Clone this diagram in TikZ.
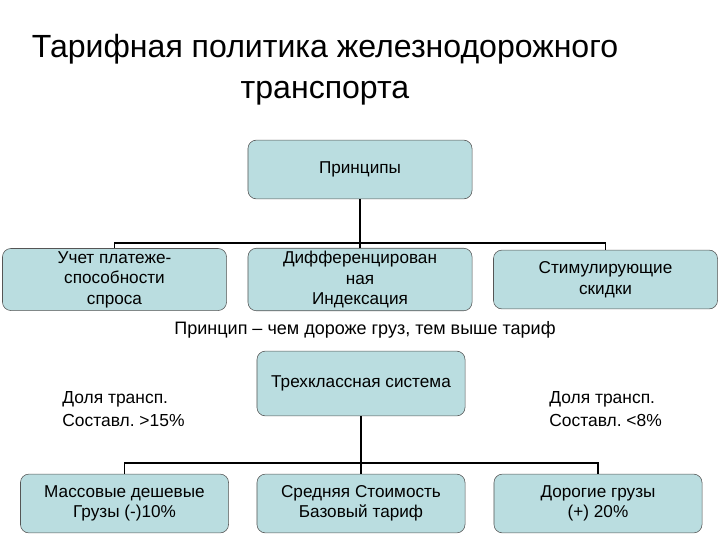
\documentclass[tikz,border=0pt]{standalone}
\usepackage{fontspec}
\setmainfont{Liberation Sans}
\usepackage{xcolor}
\usetikzlibrary{positioning,calc}
\definecolor{boxfill}{HTML}{BADDE0}
\definecolor{boxline}{HTML}{555555}
\frenchspacing
\tikzset{
  box/.style={draw=boxline,fill=boxfill,rounded corners=6pt,align=center,font=\fontsize{12.2}{14.6}\selectfont,minimum width=5.6cm,minimum height=1.47cm,inner sep=2pt},
  lowbox/.style={box,minimum width=5.2cm},
  side/.style={align=left,anchor=west,font=\fontsize{12.4}{16.3}\selectfont,inner sep=0pt},
  conn/.style={line width=1.4pt},
}
\begin{document}
\begin{tikzpicture}[x=0.025cm,y=-0.025cm]
\useasboundingbox (0,0) rectangle (720,540);
\node[align=center,font=\fontsize{22.8}{29}\selectfont] (title) at (325,70) {Тарифная политика железнодорожного\\транспорта};
\node[box] (pr) at (360,169.5) {Принципы};
\node[box] (p1) at (114.5,279.5) {Учет платеже-\\способности\\спроса};
\node[box] (p2) at (360,279.5) {Дифференцирован\\ная\\Индексация};
\node[box] (p3) at (605.5,279.5) {Стимулирующие\\скидки};
\node[font=\fontsize{12.8}{15}\selectfont] (cap) at (365,330) {Принцип – чем дороже груз, тем выше тариф};
\node[lowbox,minimum height=1.62cm] (sys) at (361,383.5) {Трехклассная система};
\node[side] (l1) at (62,409) {Доля трансп.\\Составл. >15\%};
\node[side] (r1) at (549,409) {Доля трансп.\\Составл. <8\%};
\node[lowbox] (g1) at (124.5,503.5) {Массовые дешевые\\Грузы (-)10\%};
\node[lowbox] (g2) at (361,503.5) {Средняя Стоимость\\Базовый тариф};
\node[lowbox] (g3) at (598,503.5) {Дорогие грузы\\(+) 20\%};
% connectors
\coordinate (bar1) at (360,243);
\coordinate (bar2) at (361,463);
\draw[conn] (pr.south) -- (p2.north);
\draw[conn] (p1.north) |- (bar1) -| (p3.north);
\draw[conn] (sys.south) -- (g2.north);
\draw[conn] (g1.north) |- (bar2) -| (g3.north);
\end{tikzpicture}
\end{document}
